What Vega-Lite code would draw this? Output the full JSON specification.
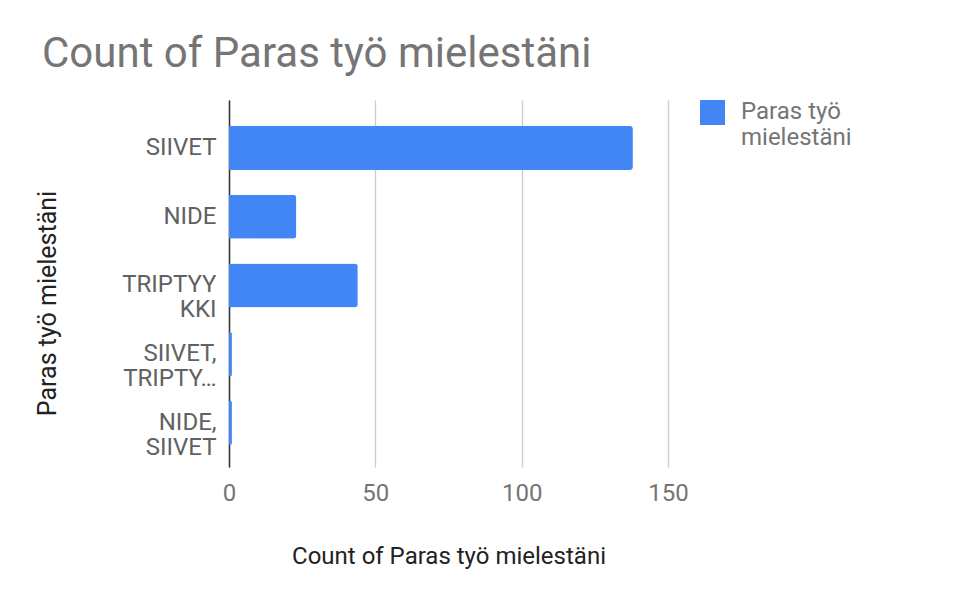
{
  "$schema": "https://vega.github.io/schema/vega-lite/v6.json",
  "width": 439,
  "height": 367,
  "autosize": {"type": "none"},
  "padding": {"left": 229, "top": 100, "right": 286, "bottom": 124},
  "background": "white",
  "config": {
    "font": "Roboto",
    "view": {"stroke": null}
  },
  "title": {
    "text": "Count of Paras työ mielestäni",
    "anchor": "start",
    "frame": "group",
    "fontSize": 42,
    "fontWeight": "normal",
    "color": "#757575",
    "dx": -187,
    "offset": 24
  },
  "data": {
    "values": [
      {"category": "SIIVET", "count": 138},
      {"category": "NIDE", "count": 23},
      {"category": "TRIPTYYKKI", "count": 44},
      {"category": "SIIVET, TRIPTYYKKI", "count": 1},
      {"category": "NIDE, SIIVET", "count": 1}
    ]
  },
  "mark": {"type": "bar", "cornerRadiusEnd": 3},
  "encoding": {
    "y": {
      "field": "category",
      "type": "nominal",
      "sort": null,
      "scale": {"paddingInner": 0.36, "paddingOuter": 0.35, "align": 0.54},
      "axis": {
        "title": "Paras työ mielestäni",
        "titleFontSize": 25,
        "titleFontWeight": "normal",
        "titleColor": "#222222",
        "titleAngle": -90,
        "titleAlign": "center",
        "titleBaseline": "middle",
        "titleX": -182,
        "titleY": 203,
        "labelFontSize": 24,
        "labelColor": "#616161",
        "labelPadding": 13,
        "labelLineHeight": 25,
        "labelLimit": 200,
        "labelExpr": "datum.value == 'TRIPTYYKKI' ? ['TRIPTYY','KKI'] : datum.value == 'SIIVET, TRIPTYYKKI' ? ['SIIVET,','TRIPTY…'] : datum.value == 'NIDE, SIIVET' ? ['NIDE,','SIIVET'] : datum.label",
        "ticks": false,
        "domain": true,
        "domainColor": "#333333",
        "domainWidth": 1.5,
        "grid": false
      }
    },
    "x": {
      "field": "count",
      "type": "quantitative",
      "scale": {"domain": [0, 150], "nice": false},
      "axis": {
        "title": "Count of Paras työ mielestäni",
        "titleFontSize": 24,
        "titleFontWeight": "normal",
        "titleColor": "#222222",
        "titlePadding": 39,
        "values": [0, 50, 100, 150],
        "labelFontSize": 24,
        "labelColor": "#757575",
        "labelPadding": 14,
        "labelFlush": false,
        "ticks": false,
        "domain": false,
        "grid": true,
        "gridColor": "#cccccc",
        "gridWidth": 1.3
      }
    },
    "color": {
      "datum": "Paras työ mielestäni",
      "type": "nominal",
      "scale": {"range": ["#4285F4"]},
      "legend": {
        "title": null,
        "orient": "none",
        "legendX": 471,
        "legendY": 0,
        "symbolType": "square",
        "symbolSize": 625,
        "symbolStrokeWidth": 0,
        "labelFontSize": 24,
        "labelColor": "#757575",
        "labelLineHeight": 25,
        "labelOffset": 16,
        "labelBaseline": "top",
        "labelExpr": "['Paras työ','mielestäni']",
        "encode": {"labels": {"update": {"dy": {"value": -13}}}}
      }
    }
  }
}
